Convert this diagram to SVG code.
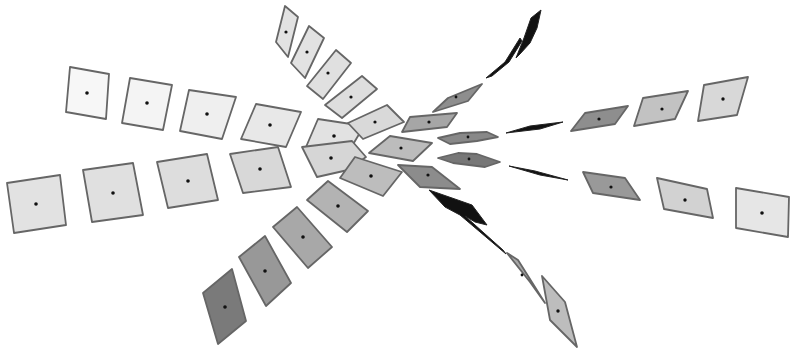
<svg xmlns="http://www.w3.org/2000/svg" width="792" height="349" viewBox="0 0 792 349">
<style>
.q{stroke:#666;stroke-width:1.8;stroke-linejoin:round}
.k{fill:#111;stroke:#222;stroke-width:1;stroke-linejoin:round}
.d{fill:#111}
</style>
<rect width="792" height="349" fill="#fff"/>
<!-- left top row -->
<polygon class="q" fill="#f7f7f7" points="70,67 109,74 106,119 66,112"/><circle class="d" cx="87" cy="93" r="1.8"/>
<polygon class="q" fill="#f4f4f4" points="130,78 172,85 163,130 122,123"/><circle class="d" cx="147" cy="103" r="1.8"/>
<polygon class="q" fill="#efefef" points="189,90 236,97 222,139 180,131"/><circle class="d" cx="207" cy="114" r="1.8"/>
<polygon class="q" fill="#e8e8e8" points="256,104 301,112 286,147 241,139"/><circle class="d" cx="270" cy="125" r="1.8"/>
<polygon class="q" fill="#e2e2e2" points="318,119 364,126 352,146 306,147"/><circle class="d" cx="334" cy="136" r="1.8"/>
<!-- left bottom row -->
<polygon class="q" fill="#e2e2e2" points="7,183 60,175 66,225 14,233"/><circle class="d" cx="36" cy="204" r="1.8"/>
<polygon class="q" fill="#e0e0e0" points="83,170 133,163 143,215 92,222"/><circle class="d" cx="113" cy="193" r="1.8"/>
<polygon class="q" fill="#dddddd" points="157,162 207,154 218,200 168,208"/><circle class="d" cx="188" cy="181" r="1.8"/>
<polygon class="q" fill="#d8d8d8" points="230,154 278,147 291,187 243,193"/><circle class="d" cx="260" cy="169" r="1.8"/>
<polygon class="q" fill="#d6d6d6" points="302,147 352,141 366,157 348,170 317,177"/><circle class="d" cx="331" cy="158" r="1.8"/>
<!-- upper arc -->
<polygon class="q" fill="#e2e2e2" points="285,6 298,17 288,57 276,42"/><circle class="d" cx="286" cy="32" r="1.6"/>
<polygon class="q" fill="#e2e2e2" points="309,26 324,38 305,78 291,63"/><circle class="d" cx="307" cy="52" r="1.6"/>
<polygon class="q" fill="#e0e0e0" points="336,50 351,63 323,99 307,86"/><circle class="d" cx="328" cy="73" r="1.6"/>
<polygon class="q" fill="#dedede" points="362,76 377,89 342,118 325,105"/><circle class="d" cx="351" cy="97" r="1.6"/>
<polygon class="q" fill="#d9d9d9" points="387,105 404,122 363,139 348,123"/><circle class="d" cx="375" cy="122" r="1.6"/>
<!-- lower arc -->
<polygon class="q" fill="#bdbdbd" points="355,157 402,172 383,196 340,178"/><circle class="d" cx="371" cy="176" r="1.8"/>
<polygon class="q" fill="#b3b3b3" points="328,181 368,211 347,232 307,200"/><circle class="d" cx="338" cy="206" r="1.8"/>
<polygon class="q" fill="#a8a8a8" points="297,207 332,247 308,268 273,227"/><circle class="d" cx="303" cy="237" r="1.8"/>
<polygon class="q" fill="#989898" points="265,236 291,283 266,306 239,257"/><circle class="d" cx="265" cy="271" r="1.8"/>
<polygon class="q" fill="#7a7a7a" points="232,269 246,321 218,344 203,293"/><circle class="d" cx="225" cy="307" r="1.8"/>
<!-- center -->
<polygon class="q" fill="#bcbcbc" points="390,136 432,143 413,161 369,153"/><circle class="d" cx="401" cy="148" r="1.6"/>
<polygon class="q" fill="#8c8c8c" points="398,165 432,167 460,189 420,187"/><circle class="d" cx="428" cy="175" r="1.6"/>
<polygon class="q" fill="#a6a6a6" points="410,117 457,113 447,127 402,132"/><circle class="d" cx="429" cy="122" r="1.6"/>
<!-- upper right chain -->
<polygon class="q" fill="#8e8e8e" points="433,112 448,98 482,84 468,101"/><circle class="d" cx="456" cy="97" r="1.4"/>
<polygon class="k" points="486,78 505,62 520,38 522,41 509,62 492,76"/>
<polygon class="k" points="516,58 524,38 531,18 541,10 537,28 530,43 520,54"/>
<!-- middle right chain -->
<polygon class="q" fill="#888888" points="438,138 460,133 487,132 498,137 477,141 450,144"/><circle class="d" cx="468" cy="137" r="1.4"/>
<polygon class="k" fill="#333" points="506,133 530,126 563,122 540,129"/>
<polygon class="q" fill="#8e8e8e" points="571,131 585,113 628,106 615,124"/><circle class="d" cx="599" cy="119" r="1.6"/>
<polygon class="q" fill="#c2c2c2" points="643,98 688,91 675,119 634,126"/><circle class="d" cx="662" cy="109" r="1.6"/>
<polygon class="q" fill="#d8d8d8" points="704,85 748,77 737,115 698,121"/><circle class="d" cx="723" cy="99" r="1.7"/>
<!-- lower right chain -->
<polygon class="q" fill="#777777" points="438,158 458,153 477,154 500,162 485,167 453,163"/><circle class="d" cx="469" cy="159" r="1.4"/>
<polygon class="k" fill="#444" points="509,166 535,171 568,180 540,175"/>
<polygon class="q" fill="#999999" points="583,172 625,178 640,200 593,193"/><circle class="d" cx="611" cy="187" r="1.6"/>
<polygon class="q" fill="#d2d2d2" points="657,178 707,189 713,218 664,209"/><circle class="d" cx="685" cy="200" r="1.7"/>
<polygon class="q" fill="#e6e6e6" points="736,188 789,197 788,237 736,228"/><circle class="d" cx="762" cy="213" r="1.8"/>
<!-- lower diagonal chain -->
<polygon class="k" points="429,190 452,198 472,205 487,225 475,222 465,216 503,250 506,254 460,215 445,207"/>
<polygon class="q" fill="#a9a9a9" points="507,253 518,260 545,303 530,282"/><circle class="d" cx="522" cy="275" r="1.4"/>
<polygon class="q" fill="#bdbdbd" points="542,276 565,302 577,347 550,320"/><circle class="d" cx="558" cy="311" r="1.7"/>
</svg>
